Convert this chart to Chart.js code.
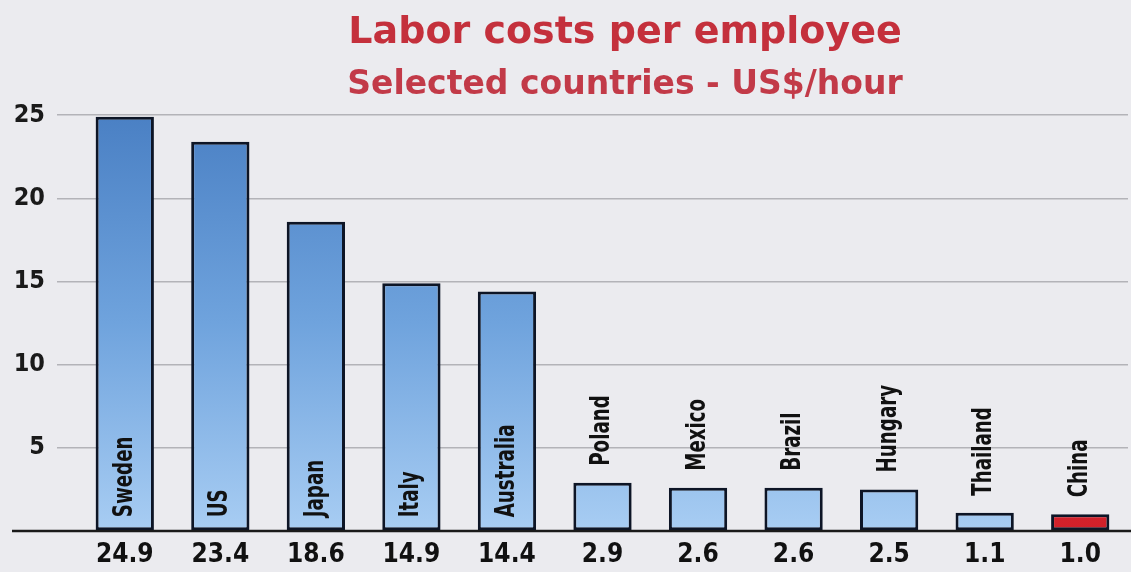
<!DOCTYPE html>
<html>
<head>
<meta charset="utf-8">
<script src="https://cdn.jsdelivr.net/npm/chart.js@4"></script>
<style>
  body { margin: 0; background: #ebebef; }
  #wrap { width: 1131px; height: 572px; }
</style>
</head>
<body>
<div id="wrap"><canvas id="chart" width="1131" height="572"></canvas></div>
<script>
const countries = ["Sweden", "US", "Japan", "Italy", "Australia", "Poland", "Mexico", "Brazil", "Hungary", "Thailand", "China"];
const costs = [24.9, 23.4, 18.6, 14.9, 14.4, 2.9, 2.6, 2.6, 2.5, 1.1, 1.0];
const costLabels = ["24.9", "23.4", "18.6", "14.9", "14.4", "2.9", "2.6", "2.6", "2.5", "1.1", "1.0"];
const yTicks = [0, 5, 10, 15, 20, 25];
const titleText = "Labor costs per employee";
const subtitleText = "Selected countries - US$/hour";

const numFont = "'DejaVu Sans Condensed', 'DejaVu Sans', sans-serif";

function barFill(ctx) {
  const area = ctx.chart.chartArea;
  if (!area) return "#6fa3dd";
  const g = ctx.chart.ctx.createLinearGradient(0, area.top, 0, area.bottom);
  if (countries[ctx.dataIndex] === "China") {
    g.addColorStop(0, "#e84848");
    g.addColorStop(1, "#d0202a");
  } else {
    g.addColorStop(0, "#4a80c4");
    g.addColorStop(0.5, "#6fa3dd");
    g.addColorStop(1, "#a8cdf3");
  }
  return g;
}

// country names, rotated and squeezed, inside tall bars or above short ones
const nameLabels = {
  id: "nameLabels",
  afterDatasetsDraw(chart) {
    const c = chart.ctx;
    const squeeze = 0.78;
    c.save();
    c.font = "bold 26px " + numFont;
    c.fillStyle = "#111";
    c.textBaseline = "middle";
    c.textAlign = "left";
    chart.getDatasetMeta(0).data.forEach((bar, i) => {
      const txt = countries[i];
      const w = c.measureText(txt).width * squeeze;
      const h = bar.base - bar.y;
      const start = h > w + 24 ? bar.base - 13 : bar.y - 17;
      c.save();
      c.translate(bar.x, start);
      c.rotate(-Math.PI / 2);
      c.scale(squeeze, 1);
      c.fillText(txt, 0, 0);
      c.restore();
    });
    c.restore();
  }
};

// long baseline under the whole chart, and title nudged right
const baseLine = {
  id: "baseLine",
  afterLayout(chart) {
    chart.boxes.forEach(b => {
      if (b.options && (b.options.text === titleText || b.options.text === subtitleText)) {
        b.left += 110;
      }
    });
  },
  afterDatasetsDraw(chart) {
    const c = chart.ctx;
    const y = chart.scales.y.getPixelForValue(0);
    c.save();
    c.strokeStyle = "#1a1a1a";
    c.lineWidth = 2.5;
    c.beginPath();
    c.moveTo(12, y);
    c.lineTo(chart.width, y);
    c.stroke();
    c.restore();
  }
};

new Chart(document.getElementById("chart"), {
  type: "bar",
  data: {
    labels: countries,
    datasets: [{
      data: costs,
      backgroundColor: barFill,
      borderColor: "#0d1526",
      borderWidth: 3,
      borderSkipped: false,
      barPercentage: 0.61,
      categoryPercentage: 1
    }]
  },
  options: {
    responsive: false,
    animation: false,
    layout: { padding: { left: 12, right: 3, top: 0, bottom: 0 } },
    plugins: {
      legend: { display: false },
      tooltip: { enabled: false },
      title: {
        display: true,
        text: titleText,
        color: "#c4303c",
        font: { family: "'DejaVu Sans', sans-serif", size: 38, weight: "bold" },
        padding: { top: 10, bottom: 4 }
      },
      subtitle: {
        display: true,
        text: subtitleText,
        color: "#c23a48",
        font: { family: "'DejaVu Sans', sans-serif", size: 33, weight: "bold" },
        padding: { top: 6, bottom: 10 }
      }
    },
    scales: {
      x: {
        grid: { display: false },
        border: { display: false },
        afterFit: s => { s.height = 41; },
        ticks: {
          color: "#111",
          padding: 1,
          font: { family: numFont, size: 26, weight: "bold" },
          callback: (v, i) => costLabels[i]
        }
      },
      y: {
        min: 0,
        max: 25,
        afterBuildTicks: s => { s.ticks = yTicks.map(v => ({ value: v })); },
        afterFit: s => { s.width = 65; },
        grid: { color: "#b3b3b8", lineWidth: 1.5, tickLength: 20 },
        border: { display: false },
        ticks: {
          color: "#1a1a1a",
          padding: 12,
          font: { family: numFont, size: 25, weight: "bold" },
          callback: v => v === 0 ? "" : v
        }
      }
    }
  },
  plugins: [nameLabels, baseLine]
});
</script>
</body>
</html>
